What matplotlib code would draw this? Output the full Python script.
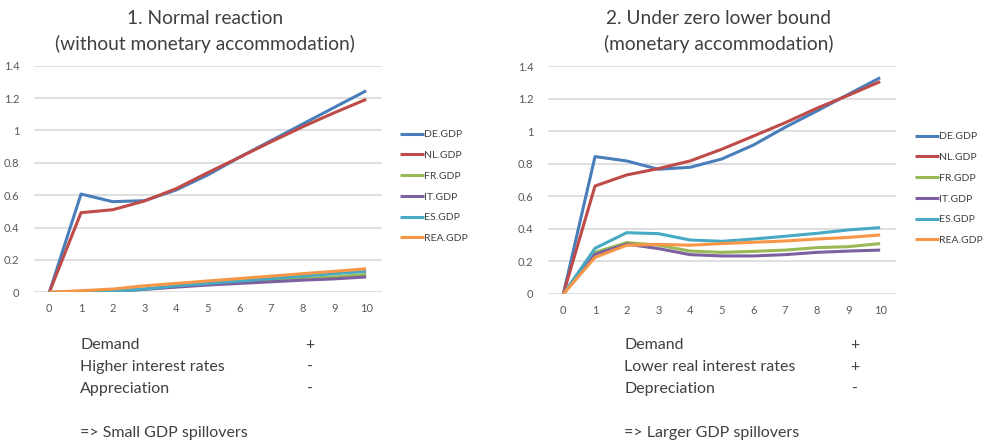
import matplotlib
matplotlib.use('Agg')
import matplotlib.pyplot as plt

# horizon (quarters) and GDP responses
periods = list(range(0, 11))
series_names = ['DE.GDP', 'NL.GDP', 'FR.GDP', 'IT.GDP', 'ES.GDP', 'REA.GDP']
colors = ['#4A7EBB', '#BE4B48', '#98B954', '#7D60A0', '#46AAC5', '#F79646']

# 1. Normal reaction
normal_de = [0, 0.607, 0.56, 0.566, 0.632, 0.725, 0.834, 0.937, 1.04, 1.143, 1.245]
normal_nl = [0, 0.492, 0.51, 0.564, 0.64, 0.739, 0.834, 0.93, 1.023, 1.11, 1.192]
normal_fr = [0, 0.0, 0.005, 0.02, 0.035, 0.05, 0.06, 0.075, 0.085, 0.095, 0.11]
normal_it = [0, 0.0, 0.005, 0.018, 0.032, 0.045, 0.055, 0.065, 0.075, 0.083, 0.095]
normal_es = [0, 0.0, 0.005, 0.02, 0.04, 0.055, 0.07, 0.085, 0.1, 0.115, 0.13]
normal_rea = [0, 0.01, 0.02, 0.04, 0.055, 0.07, 0.085, 0.1, 0.115, 0.13, 0.145]

# 2. Under zero lower bound
zlb_de = [0, 0.845, 0.818, 0.767, 0.779, 0.83, 0.916, 1.025, 1.125, 1.228, 1.33]
zlb_nl = [0, 0.664, 0.732, 0.771, 0.818, 0.89, 0.971, 1.053, 1.142, 1.222, 1.306]
zlb_fr = [0, 0.256, 0.316, 0.30, 0.264, 0.256, 0.262, 0.27, 0.285, 0.291, 0.31]
zlb_it = [0, 0.244, 0.307, 0.279, 0.242, 0.234, 0.234, 0.242, 0.256, 0.264, 0.27]
zlb_es = [0, 0.281, 0.377, 0.371, 0.332, 0.324, 0.338, 0.355, 0.373, 0.394, 0.408]
zlb_rea = [0, 0.225, 0.30, 0.305, 0.30, 0.31, 0.318, 0.326, 0.338, 0.348, 0.363]

y_ticks = [0, 0.2, 0.4, 0.6, 0.8, 1.0, 1.2, 1.4]
y_labels = ['0', '0.2', '0.4', '0.6', '0.8', '1', '1.2', '1.4']

left_title = ['1. Normal reaction', '(without monetary accommodation)']
right_title = ['2. Under zero lower bound', '(monetary accommodation)']
left_notes = [('Demand', '+'), ('Higher interest rates', '-'), ('Appreciation', '-')]
right_notes = [('Demand', '+'), ('Lower real interest rates', '+'), ('Depreciation', '-')]
left_concl = '=> Small GDP spillovers'
right_concl = '=> Larger GDP spillovers'

W, H = 992, 445
FONT = 'Lato'
TXT = '#404040'


def fx(px):
    return px / W


def fy(py):
    return 1 - py / H


def draw_panel(fig, rect, data, legend_x):
    ax = fig.add_axes(rect)
    for vals, name, c in zip(data, series_names, colors):
        ax.plot(periods, vals, color=c, lw=2.2, label=name, solid_capstyle='butt')
    ax.set_xlim(-0.5, 10.5)
    ax.set_ylim(0, 1.4)
    ax.set_yticks(y_ticks)
    ax.set_yticklabels(y_labels)
    ax.set_xticks(periods)
    ax.grid(axis='y', color='#D9D9D9', lw=1.2)
    ax.set_axisbelow(True)
    for s in ax.spines.values():
        s.set_visible(False)
    ax.tick_params(length=0, labelsize=8, labelcolor='#595959', pad=10)
    ax.tick_params(axis='x', pad=8)
    for lab in ax.get_xticklabels() + ax.get_yticklabels():
        lab.set_family(FONT)
    leg = ax.legend(loc='upper left', bbox_to_anchor=legend_x, bbox_transform=fig.transFigure,
                    frameon=False, handlelength=2.3, handletextpad=0.0, labelspacing=1.1,
                    prop={'family': FONT, 'size': 7.5}, borderaxespad=0, borderpad=0)
    for t in leg.get_texts():
        t.set_color('#404040')
    return ax


fig = plt.figure(figsize=(W / 100, H / 100), dpi=100)

draw_panel(fig, [fx(33.5), fy(292.3), fx(348.5), 226.6 / H],
           [normal_de, normal_nl, normal_fr, normal_it, normal_es, normal_rea],
           (fx(400), fy(130)))
draw_panel(fig, [fx(547.5), fy(294), fx(348.5), 227.7 / H],
           [zlb_de, zlb_nl, zlb_fr, zlb_it, zlb_es, zlb_rea],
           (fx(915), fy(132)))

# titles
for cx, lines in [(205, left_title), (719, right_title)]:
    for i, line in enumerate(lines):
        fig.text(fx(cx), fy(18 + 26 * i), line, ha='center', va='center',
                 fontsize=13.8, family=FONT, color=TXT)

# explanatory notes under each chart
for x0, xs, notes, concl in [(80, 310, left_notes, left_concl),
                             (624, 855, right_notes, right_concl)]:
    for i, (label, sign) in enumerate(notes):
        y = 345 + 22 * i
        fig.text(fx(x0), fy(y), label, ha='left', va='center', fontsize=11.5,
                 family=FONT, color=TXT)
        fig.text(fx(xs), fy(y), sign, ha='center', va='center', fontsize=11.5,
                 family=FONT, color=TXT)
    fig.text(fx(x0), fy(433), concl, ha='left', va='center', fontsize=11.5,
             family=FONT, color=TXT)

fig.savefig('out.png', dpi=100)
